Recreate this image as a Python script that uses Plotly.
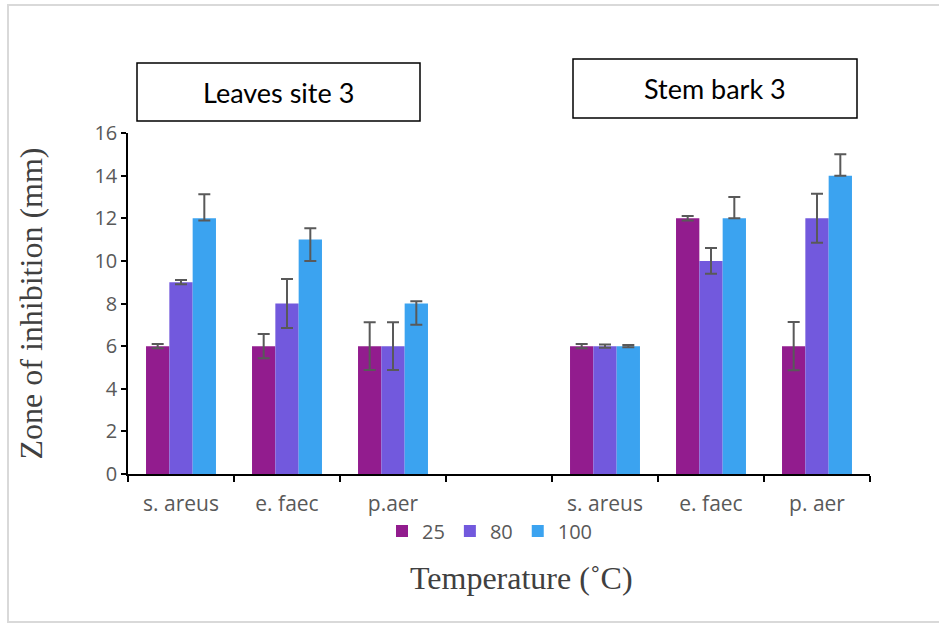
import plotly.graph_objects as go

# Zone of inhibition (mm) per organism, grouped by extraction temperature
categories = ["s. areus", "e. faec", "p.aer", "", "s. areus", "e. faec", "p. aer"]
temperatures = ["25", "80", "100"]

zone_25 = [6, 6, 6, None, 6, 12, 6]
zone_80 = [9, 8, 6, None, 6, 10, 12]
zone_100 = [12, 11, 8, None, 6, 12, 14]

err_plus_25 = [0.1, 0.57, 1.12, None, 0.1, 0.1, 1.13]
err_minus_25 = [0.1, 0.57, 1.12, None, 0.1, 0.1, 1.13]
err_plus_80 = [0.1, 1.15, 1.12, None, 0.08, 0.6, 1.15]
err_minus_80 = [0.1, 1.15, 1.12, None, 0.08, 0.6, 1.15]
err_plus_100 = [1.13, 0.53, 0.1, None, 0.05, 1.0, 1.0]
err_minus_100 = [0.1, 1.0, 1.0, None, 0.05, 0.0, 0.0]

panel_titles = ["Leaves site 3", "Stem bark 3"]

colors = ["#921C8E", "#7259DD", "#3BA3F0"]
values = [zone_25, zone_80, zone_100]
plus = [err_plus_25, err_plus_80, err_plus_100]
minus = [err_minus_25, err_minus_80, err_minus_100]

W, H = 939, 624
ML, MR, MT, MB = 128, 69, 133, 150
PW, PH = W - ML - MR, H - MT - MB


def px_x(p):
    return (p - ML) / PW


def px_y(p):
    return (H - MB - p) / PH


x_pos = list(range(len(categories)))

fig = go.Figure()
for name, col, vals, ep, em in zip(temperatures, colors, values, plus, minus):
    fig.add_trace(go.Bar(
        x=x_pos, y=vals, name=name,
        marker=dict(color=col, line=dict(width=0)),
        error_y=dict(type="data", array=ep, arrayminus=em, symmetric=False,
                     color="#595959", thickness=2, width=6),
    ))

x_tick_font = dict(family="Open Sans", size=21, color="#595959")
y_tick_font = dict(family="Open Sans", size=20, color="#595959")

fig.update_layout(
    width=W, height=H,
    margin=dict(l=ML, r=MR, t=MT, b=MB),
    paper_bgcolor="white", plot_bgcolor="white",
    barmode="group", bargap=0.34, bargroupgap=0,
    showlegend=True,
    legend=dict(orientation="h", x=px_x(490), xanchor="center",
                y=px_y(531), yanchor="middle",
                font=dict(family="Open Sans", size=20, color="#595959"),
                itemwidth=30, traceorder="normal"),
    xaxis=dict(range=[-0.5, len(categories) - 0.5],
               tickmode="array", tickvals=x_pos, ticktext=categories,
               ticks="", tickfont=x_tick_font, ticklabelstandoff=10,
               minor=dict(tickmode="linear", tick0=-0.5, dtick=1,
                          ticks="outside", ticklen=6, tickwidth=1.5,
                          tickcolor="#000000", showgrid=False),
               showline=True, linecolor="#000000", linewidth=1.5,
               showgrid=False, zeroline=False),
    yaxis=dict(range=[0, 16], dtick=2, ticks="outside", ticklen=5,
               tickwidth=1.5, tickcolor="#000000", tickfont=y_tick_font,
               showline=True, linecolor="#000000", linewidth=1.5,
               showgrid=False, zeroline=False,
               title=dict(text="Zone of inhibition (mm)",
                          font=dict(family="Liberation Serif", size=32,
                                    color="#404040"),
                          standoff=42)),
)

shapes = [
    # outer chart frame
    dict(type="rect", xref="paper", yref="paper",
         x0=px_x(8), x1=px_x(946), y0=px_y(622), y1=px_y(5),
         line=dict(color="#D9D9D9", width=2), fillcolor="rgba(0,0,0,0)", layer="below"),
]
boxes = [(137, 420, 63, 121), (573, 857, 59, 118)]
annotations = []
for title, (x0, x1, y0, y1) in zip(panel_titles, boxes):
    shapes.append(dict(type="rect", xref="paper", yref="paper",
                       x0=px_x(x0), x1=px_x(x1), y0=px_y(y1), y1=px_y(y0),
                       line=dict(color="#000000", width=1.5),
                       fillcolor="white"))
    annotations.append(dict(text=title, xref="paper", yref="paper",
                            x=px_x((x0 + x1) / 2), y=px_y((y0 + y1) / 2),
                            xanchor="center", yanchor="middle", showarrow=False,
                            font=dict(family="Lato", size=27, color="#000000")))

annotations.append(dict(text="Temperature (˚C)", xref="paper", yref="paper",
                        x=px_x(521), y=px_y(578), xanchor="center", yanchor="middle",
                        showarrow=False,
                        font=dict(family="Liberation Serif", size=32, color="#404040")))

fig.update_layout(shapes=shapes, annotations=annotations)

fig.write_html("out.html")
